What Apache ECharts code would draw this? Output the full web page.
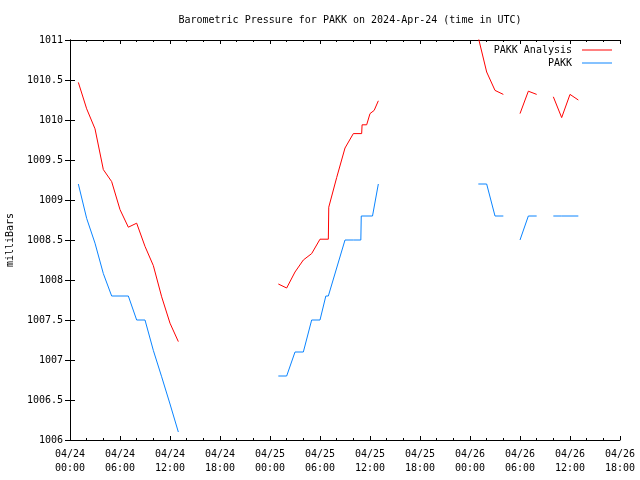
<!DOCTYPE html>
<html>
<head>
<meta charset="utf-8">
<script src="https://cdn.jsdelivr.net/npm/echarts@6/dist/echarts.min.js"></script>
<style>html,body{margin:0;padding:0;background:#fff}#c{width:640px;height:480px}</style>
</head>
<body>
<div id="c"></div>
<script>
// Hours since 2024-04-24 00:00 UTC; null = gap in record
const analysisHours = [1,2,3,4,5,6,7,8,9,10,11,12,13,14,
  25,26,27,28,29,30,31,31.05,32,33,34,35,35.05,35.6,36,36.5,37,38,
  49,50,51,52,53,54,55,56,57,58,59,60,61];
const analysisValues = [1010.47,1010.14,1009.89,1009.38,1009.23,1008.88,1008.66,1008.71,1008.42,1008.18,1007.79,1007.46,1007.23,null,
  1007.95,1007.90,1008.10,1008.25,1008.33,1008.51,1008.51,1008.91,1009.28,1009.65,1009.83,1009.83,1009.94,1009.94,1010.08,1010.12,1010.24,null,
  1011.03,1010.60,1010.37,1010.32,null,1010.08,1010.36,1010.32,null,1010.29,1010.03,1010.32,1010.25];

const obsHours = [1,2,3,4,5,6,7,8,9,10,11,12,13,14,
  25,26,27,28,29,30,30.7,31,32,33,34,34.9,34.95,36,36.3,37,38,
  49,50,51,52,53,54,55,56,57,58,59,60,61];
const obsValues = [1009.2,1008.77,1008.46,1008.08,1007.8,1007.8,1007.8,1007.5,1007.5,1007.12,1006.79,1006.45,1006.1,null,
  1006.8,1006.8,1007.1,1007.1,1007.5,1007.5,1007.8,1007.8,1008.15,1008.5,1008.5,1008.5,1008.8,1008.8,1008.8,1009.2,null,
  1009.2,1009.2,1008.8,1008.8,null,1008.5,1008.8,1008.8,null,1008.8,1008.8,1008.8,1008.8];

const seriesNames = ['PAKK Analysis', 'PAKK'];
const titleText = 'Barometric Pressure for PAKK on 2024-Apr-24 (time in UTC)';
const yName = 'milliBars';

const FONT = 'DejaVu Sans Mono';
function pair(h, v) { return h.map((x, i) => [x, v[i]]); }
function pad(n) { return (n < 10 ? '0' : '') + n; }
function xLabel(v) {
  const day = 24 + Math.floor(v / 24);
  const hr = Math.round(v % 24);
  return '04/' + day + '\n' + pad(hr) + ':00';
}
function yLabel(v) {
  return String(Math.round(v * 10) / 10);
}

const xCommon = {
  type: 'value', min: 0, max: 66, interval: 6,
  axisLine: { show: true, lineStyle: { color: '#000', width: 1 } },
  axisTick: { show: true, inside: true, length: 4, lineStyle: { color: '#000' } },
  minorTick: { show: true, splitNumber: 3, length: 2, lineStyle: { color: '#000' } },
  splitLine: { show: false }, minorSplitLine: { show: false }
};
const yCommon = {
  type: 'value', min: 1006, max: 1011, interval: 0.5,
  axisLine: { show: true, lineStyle: { color: '#000', width: 1 } },
  axisTick: { show: true, inside: true, length: 5, lineStyle: { color: '#000' } },
  splitLine: { show: false }
};

const chart = echarts.init(document.getElementById('c'), null, { renderer: 'canvas' });
chart.setOption({
  animation: false,
  backgroundColor: '#fff',
  title: {
    text: titleText, left: 345, top: 10, textAlign: 'center',
    textStyle: { fontFamily: FONT, fontSize: 10, fontWeight: 'normal', color: '#000' }
  },
  grid: { left: 70, right: 20, top: 40, bottom: 40, containLabel: false, outerBoundsMode: 'none' },
  legend: [
    { data: [seriesNames[0]], right: 28, top: 45, orient: 'vertical', align: 'right',
      icon: 'rect', itemWidth: 30, itemHeight: 1, itemGap: 4, padding: 0,
      textStyle: { fontFamily: FONT, fontSize: 10, color: '#000', padding: [0, 5, 0, 0] } },
    { data: [seriesNames[1]], right: 28, top: 58, orient: 'vertical', align: 'right',
      icon: 'rect', itemWidth: 30, itemHeight: 1, itemGap: 4, padding: 0,
      textStyle: { fontFamily: FONT, fontSize: 10, color: '#000', padding: [0, 5, 0, 0] } }
  ],
  xAxis: [
    Object.assign({}, xCommon, {
      position: 'bottom',
      axisLabel: { show: true, formatter: xLabel, fontFamily: FONT, fontSize: 10, color: '#000',
        margin: 7, lineHeight: 14, showMinLabel: true, showMaxLabel: true }
    }),
    Object.assign({}, xCommon, { position: 'top', axisLabel: { show: false } })
  ],
  yAxis: [
    Object.assign({}, yCommon, {
      position: 'left',
      name: yName, nameLocation: 'middle', nameGap: 55, nameRotate: 90,
      nameTextStyle: { fontFamily: FONT, fontSize: 10, color: '#000' },
      axisLabel: { show: true, formatter: yLabel, fontFamily: FONT, fontSize: 10, color: '#000', margin: 7 }
    }),
    Object.assign({}, yCommon, { position: 'right', axisLabel: { show: false } })
  ],
  series: [
    { name: seriesNames[0], type: 'line', xAxisIndex: 0, yAxisIndex: 0,
      data: pair(analysisHours, analysisValues), showSymbol: false, symbol: 'none',
      connectNulls: false, clip: true,
      lineStyle: { color: '#ff0000', width: 1 }, itemStyle: { color: '#ff0000' } },
    { name: seriesNames[1], type: 'line', xAxisIndex: 0, yAxisIndex: 0,
      data: pair(obsHours, obsValues), showSymbol: false, symbol: 'none',
      connectNulls: false, clip: true,
      lineStyle: { color: '#0a84ff', width: 1 }, itemStyle: { color: '#0a84ff' } }
  ]
});
</script>
</body>
</html>
